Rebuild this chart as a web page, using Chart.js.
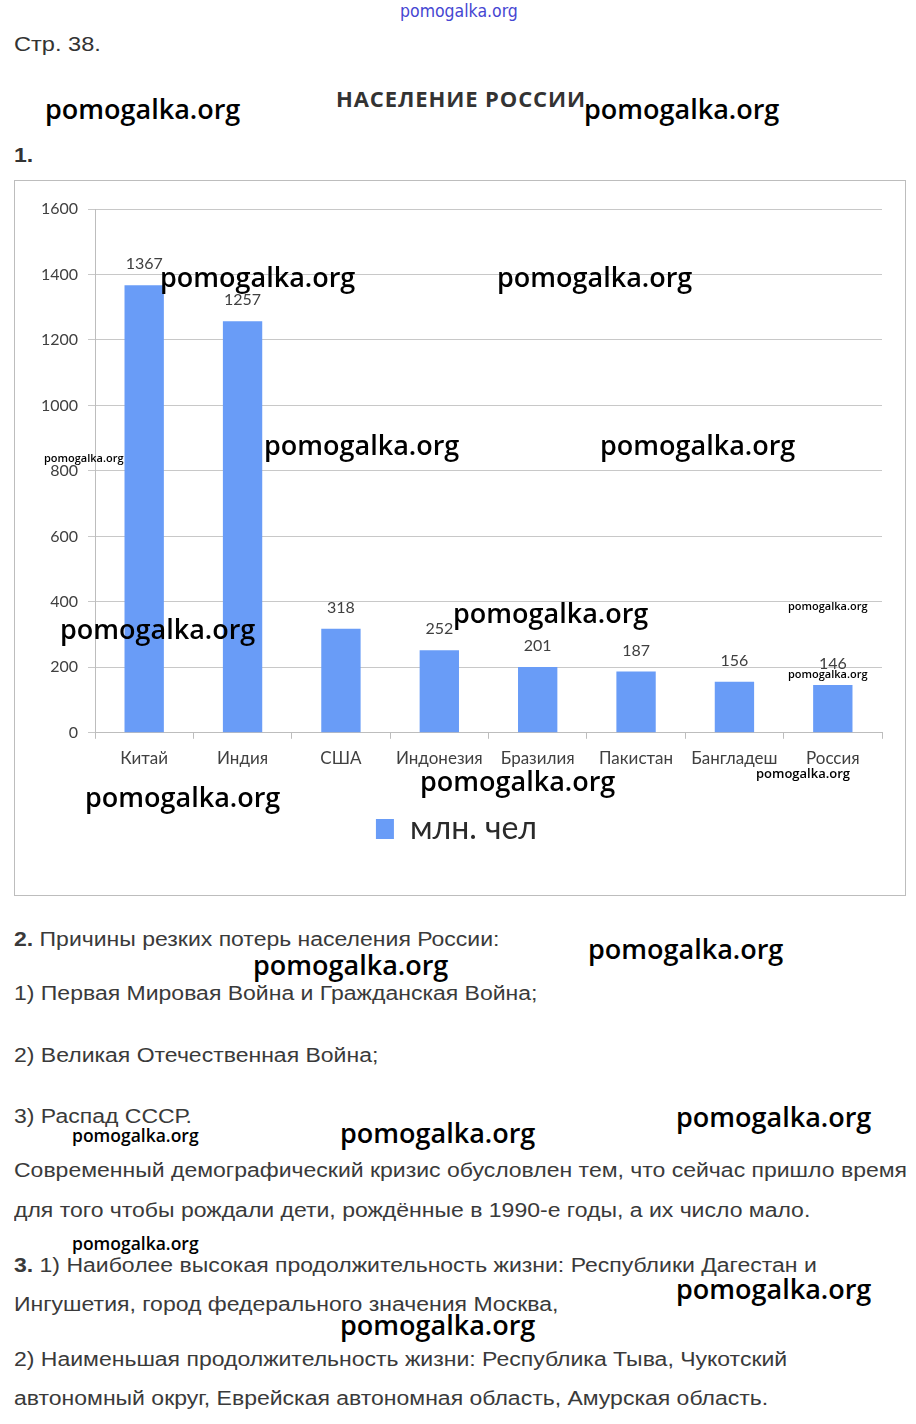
<!DOCTYPE html>
<html>
<head>
<meta charset="utf-8">
<script src="https://cdn.jsdelivr.net/npm/chart.js@4.4.0/dist/chart.umd.min.js"></script>
<style>
  html, body { margin:0; padding:0; background:#fff; }
  body { width:916px; height:1424px; position:relative; overflow:hidden; }
  .t { position:absolute; white-space:nowrap; font-family:"Liberation Sans", Arial, sans-serif; font-size:20px; line-height:24px; color:#3a3a3a; transform:scaleX(1.15); transform-origin:0 50%; }
  .wm { position:absolute; white-space:nowrap; font-family:"Open Sans", sans-serif; font-weight:600; color:#000; line-height:1; }
  .big { font-size:27px; }
  #box { position:absolute; left:14px; top:180px; width:892px; height:716px; box-sizing:border-box; border:1px solid #bdbdbd; }
  #cw { position:absolute; left:0; top:0; width:890px; height:714px; }
</style>
</head>
<body>
<div class="wm" style="left:400px;top:3px;font-size:17.5px;font-weight:400;color:#4646d2;font-family:'DejaVu Sans Condensed',sans-serif;">pomogalka.org</div>
<div class="t" style="left:14px;top:32px;color:#333;transform:scaleX(1.18);">Стр. 38.</div>
<div class="t" style="left:336px;top:86px;font-family:'Open Sans',sans-serif;font-weight:700;font-size:22px;letter-spacing:0.9px;color:#333;transform:none;">НАСЕЛЕНИЕ РОССИИ</div>
<div class="t" style="left:14px;top:143px;font-weight:700;color:#333;">1.</div>

<div id="box"><div id="cw"><canvas id="c" width="890" height="714"></canvas></div></div>

<div class="t" style="top:927px;left:14px;"><b>2.</b> Причины резких потерь населения России:</div>
<div class="t" style="top:981px;left:14px;">1) Первая Мировая Война и Гражданская Война;</div>
<div class="t" style="top:1043px;left:14px;">2) Великая Отечественная Война;</div>
<div class="t" style="top:1104px;left:14px;">3) Распад СССР.</div>
<div class="t" style="top:1158px;left:14px;">Современный демографический кризис обусловлен тем, что сейчас пришло время</div>
<div class="t" style="top:1198px;left:14px;">для того чтобы рождали дети, рождённые в 1990-е годы, а их число мало.</div>
<div class="t" style="top:1253px;left:14px;"><b>3.</b> 1) Наиболее высокая продолжительность жизни: Республики Дагестан и</div>
<div class="t" style="top:1292px;left:14px;">Ингушетия, город федерального значения Москва,</div>
<div class="t" style="top:1347px;left:14px;">2) Наименьшая продолжительность жизни: Республика Тыва, Чукотский</div>
<div class="t" style="top:1386px;left:14px;">автономный округ, Еврейская автономная область, Амурская область.</div>

<div class="wm big" style="left:45px;top:95px;">pomogalka.org</div>
<div class="wm big" style="left:584px;top:95px;">pomogalka.org</div>
<div class="wm big" style="left:160px;top:263px;">pomogalka.org</div>
<div class="wm big" style="left:497px;top:263px;">pomogalka.org</div>
<div class="wm big" style="left:264px;top:431px;">pomogalka.org</div>
<div class="wm big" style="left:600px;top:431px;">pomogalka.org</div>
<div class="wm" style="left:44px;top:452px;font-size:11px;">pomogalka.org</div>
<div class="wm big" style="left:453px;top:599px;">pomogalka.org</div>
<div class="wm big" style="left:60px;top:615px;">pomogalka.org</div>
<div class="wm" style="left:788px;top:600px;font-size:11px;">pomogalka.org</div>
<div class="wm" style="left:788px;top:668px;font-size:11px;">pomogalka.org</div>
<div class="wm big" style="left:420px;top:767px;">pomogalka.org</div>
<div class="wm" style="left:756px;top:767px;font-size:13px;">pomogalka.org</div>
<div class="wm big" style="left:85px;top:783px;">pomogalka.org</div>
<div class="wm big" style="left:588px;top:935px;">pomogalka.org</div>
<div class="wm big" style="left:253px;top:951px;">pomogalka.org</div>
<div class="wm big" style="left:676px;top:1103px;">pomogalka.org</div>
<div class="wm" style="left:72px;top:1127px;font-size:17.5px;">pomogalka.org</div>
<div class="wm big" style="left:340px;top:1119px;">pomogalka.org</div>
<div class="wm" style="left:72px;top:1235px;font-size:17.5px;">pomogalka.org</div>
<div class="wm big" style="left:676px;top:1275px;">pomogalka.org</div>
<div class="wm big" style="left:340px;top:1311px;">pomogalka.org</div>

<script>
const categories = ["Китай", "Индия", "США", "Индонезия", "Бразилия", "Пакистан", "Бангладеш", "Россия"];
const population = [1367, 1257, 318, 252, 201, 187, 156, 146];
const seriesName = "млн. чел";
const yTicks = [0, 200, 400, 600, 800, 1000, 1200, 1400, 1600];

const barColor = "#699cf7";
const chartFont = "Lato, 'Open Sans', sans-serif";

const valueLabels = {
  id: "valueLabels",
  afterDatasetsDraw(chart) {
    const ctx = chart.ctx;
    const meta = chart.getDatasetMeta(0);
    ctx.save();
    ctx.font = "16px " + chartFont;
    ctx.fillStyle = "#404040";
    ctx.textAlign = "center";
    ctx.textBaseline = "middle";
    meta.data.forEach((bar, i) => {
      ctx.fillText(String(chart.data.datasets[0].data[i]), bar.x, bar.y - 21);
    });
    ctx.restore();
  }
};

new Chart(document.getElementById("c"), {
  type: "bar",
  data: {
    labels: categories,
    datasets: [{
      label: seriesName,
      data: population,
      backgroundColor: barColor,
      borderWidth: 0,
      categoryPercentage: 0.8,
      barPercentage: 0.5
    }]
  },
  options: {
    responsive: false,
    animation: false,
    devicePixelRatio: 1,
    layout: { padding: { top: 28, right: 23, left: 16, bottom: 40 } },
    plugins: {
      tooltip: { enabled: false },
      legend: {
        position: "bottom",
        labels: {
          boxWidth: 18, boxHeight: 20, padding: 10,
          color: "#2a2a2a",
          font: { family: chartFont, size: 32 }
        }
      }
    },
    scales: {
      x: {
        grid: { display: true, drawOnChartArea: false, drawTicks: true, tickLength: 6, color: "#bdbdbd", offset: true },
        border: { display: true, color: "#bdbdbd" },
        ticks: { color: "#404040", font: { family: chartFont, size: 17 }, padding: 10, maxRotation: 0, autoSkip: false },
        afterFit(scale) { scale.height = 70.2; }
      },
      y: {
        min: 0, max: 1600,
        afterBuildTicks(scale) { scale.ticks = yTicks.map(v => ({ value: v })); },
        grid: { color: "#c8c8c8", tickLength: 7, drawTicks: true },
        border: { display: true, color: "#bdbdbd" },
        ticks: { color: "#404040", font: { family: chartFont, size: 16 }, padding: 10, callback: (v) => String(v) },
        afterFit(scale) { scale.width = 64; }
      }
    }
  },
  plugins: [valueLabels]
});
</script>
</body>
</html>
